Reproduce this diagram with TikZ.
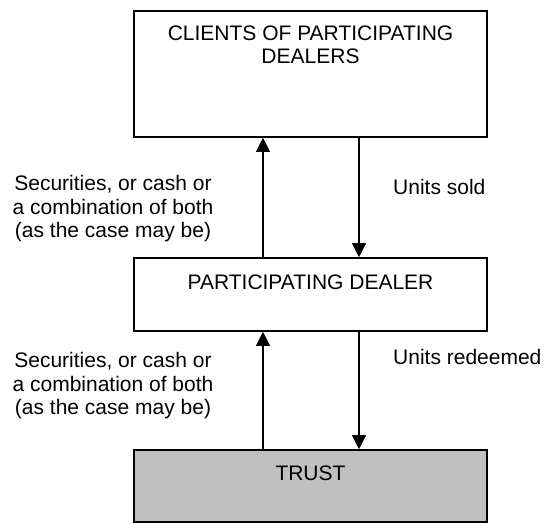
\documentclass[tikz,border=0pt]{standalone}
\usepackage{fontspec}
\setmainfont{Liberation Sans}
\usetikzlibrary{arrows.meta}
\definecolor{trustgray}{HTML}{C0C0C0}
\tikzset{
  boxshape/.style={draw=black, line width=1.6pt, rectangle, inner sep=0pt},
  txt/.style={font=\fontsize{21}{23.5}\selectfont, inner sep=0pt, align=center},
  flow/.style={line width=1.2pt, -{Triangle[length=14pt,width=14pt]}}
}
\begin{document}
\begin{tikzpicture}[x=1pt,y=-1pt]
\useasboundingbox (0,0) rectangle (547,523);
% boxes
\node[boxshape, minimum width=353pt, minimum height=126pt] (top) at (310.5,74) {};
\node[boxshape, minimum width=353pt, minimum height=73pt] (mid) at (310.5,294.5) {};
\node[boxshape, fill=trustgray, minimum width=353pt, minimum height=72pt] (trust) at (310.5,486) {};
% box texts
\node[txt] (toptext) at (310.5,45) {CLIENTS OF PARTICIPATING\\DEALERS};
\node[txt] (midtext) at (310.5,282) {PARTICIPATING DEALER};
\node[txt] (trusttext) at (310.5,473) {TRUST};
% arrow columns
\coordinate (ax) at (263,0);
\coordinate (bx) at (359,0);
\draw[flow] (mid.north -| ax) -- (top.south -| ax);
\draw[flow] (top.south -| bx) -- (mid.north -| bx);
\draw[flow] (trust.north -| ax) -- (mid.south -| ax);
\draw[flow] (mid.south -| bx) -- (trust.north -| bx);
% labels
\node[txt] (lab1) at (113,209) {Securities, or cash or\\a combination of both\\(as the case may be)};
\node[txt, anchor=west] (lab2) at (393,187) {Units sold};
\node[txt] (lab3) at (113,386) {Securities, or cash or\\a combination of both\\(as the case may be)};
\node[txt, anchor=west] (lab4) at (393,357) {Units redeemed};
\end{tikzpicture}
\end{document}
